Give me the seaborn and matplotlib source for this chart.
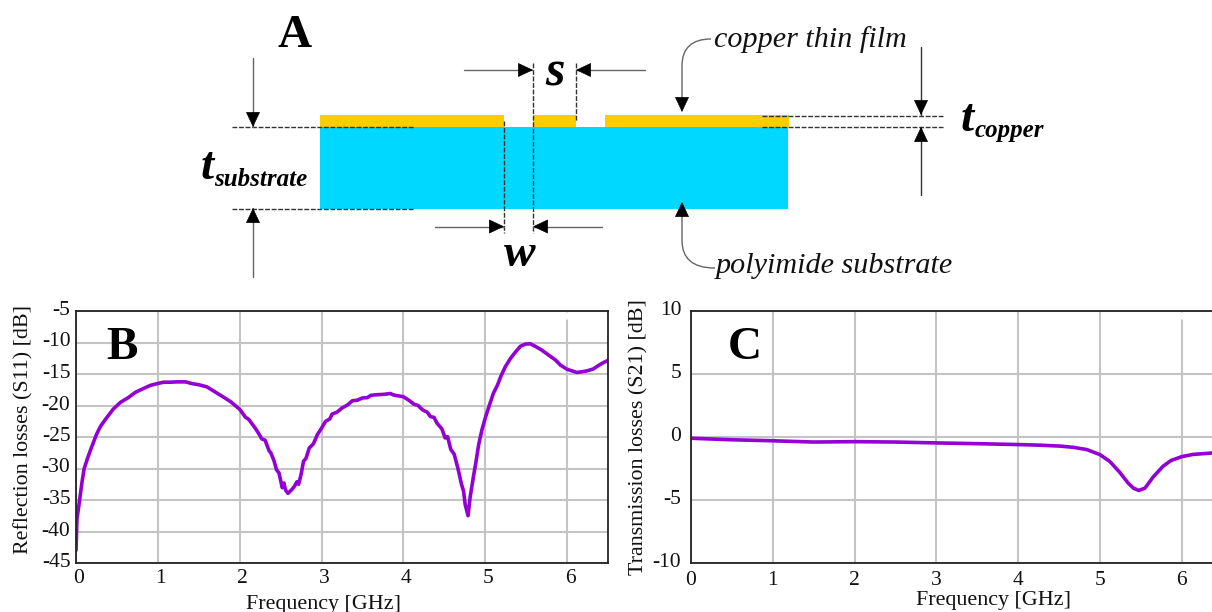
import pandas as pd
import matplotlib.pyplot as plt
import seaborn as sns
from matplotlib.patches import Rectangle, PathPatch
from matplotlib.path import Path
from matplotlib.transforms import ScaledTranslation

# panel B, reflection losses
s11_freq = [0, 0.012, 0.04, 0.073, 0.10, 0.143, 0.188, 0.25, 0.30, 0.36, 0.453, 0.543, 0.633, 0.727, 0.808, 0.91, 1.0,
            1.073, 1.155, 1.237, 1.339, 1.41, 1.50, 1.60, 1.70, 1.80, 1.89, 2.0, 2.07, 2.11, 2.19, 2.23, 2.27, 2.31,
            2.36, 2.38, 2.42, 2.45, 2.48, 2.52, 2.54, 2.56, 2.59, 2.64, 2.67, 2.70, 2.72, 2.75, 2.78, 2.81, 2.85, 2.90,
            2.95, 3.0, 3.05, 3.10, 3.13, 3.19, 3.25, 3.32, 3.375, 3.44, 3.50, 3.56, 3.60, 3.66, 3.74, 3.78, 3.84, 3.885,
            3.95, 4.0, 4.07, 4.13, 4.18, 4.235, 4.29, 4.33, 4.375, 4.41, 4.47, 4.51, 4.54, 4.58, 4.62, 4.665, 4.71,
            4.735, 4.755, 4.79, 4.815, 4.86, 4.885, 4.92, 4.96, 5.0, 5.06, 5.10, 5.15, 5.19, 5.245, 5.31, 5.37, 5.43,
            5.49, 5.55, 5.61, 5.69, 5.775, 5.86, 5.92, 6.0, 6.06, 6.12, 6.18, 6.245, 6.32, 6.39, 6.45, 6.5]
s11_db = [-43, -38, -35.4, -32.2, -30, -28.3, -26.7, -24.6, -23.3, -22.2, -20.6, -19.5, -18.8, -17.9, -17.4, -16.8, -16.5,
          -16.3, -16.3, -16.25, -16.25, -16.5, -16.7, -17.05, -17.85, -18.65, -19.4, -20.6, -21.85, -22.2, -23.6, -24.4, -25.3, -25.5,
          -27.2, -27.5, -28.8, -30.2, -30.7, -33.05, -32.3, -33.4, -33.95, -33.3, -32.8, -32.1, -32.5, -30.95, -28.85, -28.4, -26.75, -26.1,
          -24.6, -23.6, -22.5, -22.15, -21.35, -21.05, -20.4, -19.9, -19.25, -19.15, -18.8, -18.75, -18.4, -18.3, -18.25, -18.2, -18.1, -18.35,
          -18.5, -18.6, -19.2, -19.8, -20, -20.7, -21.05, -21.75, -21.9, -22.8, -23.7, -25.15, -24.95, -27, -27.7, -29.9, -32.5,
          -33.6, -35.7, -37.5, -34.6, -30.95, -29.1, -26.2, -23.85, -22, -19.6, -18.05, -16.75, -15.4, -13.85, -12.5, -11.5, -10.6,
          -10.25, -10.2, -10.6, -11.2, -12, -12.8, -13.6, -14.25, -14.5, -14.75, -14.65, -14.5, -14.2, -13.6, -13.15, -12.85]

# panel C, transmission losses
s21_freq = [0, 0.5, 1, 1.5, 2, 2.5, 3, 3.5, 4, 4.27, 4.51, 4.675, 4.84, 5, 5.12, 5.24, 5.345, 5.41, 5.475, 5.55, 5.65,
            5.77, 5.87, 6, 6.14, 6.37]
s21_db = [-0.1, -0.22, -0.3, -0.4, -0.37, -0.4, -0.47, -0.53, -0.6, -0.65, -0.72, -0.82, -1.0, -1.4, -1.94, -2.79, -3.66,
          -4.06, -4.24, -4.06, -3.18, -2.33, -1.86, -1.56, -1.38, -1.27]

freq_ticks = [0, 1, 2, 3, 4, 5, 6]
s11_ticks = [-5, -10, -15, -20, -25, -30, -35, -40, -45]
s21_ticks = [10, 5, 0, -5, -10]

line_color = '#9400d3'
W, H = 1212, 612

sns.set_theme(style='whitegrid')
plt.rcParams['font.family'] = ['Liberation Serif', 'DejaVu Serif']

fig = plt.figure(figsize=(W / 100, H / 100), dpi=100)


def panel_axes(left, right, top, bottom):
    return fig.add_axes([left / W, 1 - bottom / H, (right - left) / W, (bottom - top) / H])


def style_panel(ax, yticks, ylim, xlim, ylabel, xlabel_pos, ylabel_pos, xpad, ypad, shift_px):
    ax.set_xlim(xlim)
    ax.set_ylim(ylim)
    ax.set_xticks(freq_ticks)
    ax.set_yticks(yticks)
    ax.set_xticklabels([str(t) for t in freq_ticks])
    ax.set_yticklabels([str(t) for t in yticks])
    ax.grid(True, color='#c4c4c4', linewidth=1.5)
    ax.tick_params(axis='y', labelsize=15.5, colors='#111111', length=0, pad=ypad)
    ax.tick_params(axis='x', labelsize=15.5, colors='#111111', length=0, pad=xpad)
    ax.set_xlabel('Frequency [GHz]', fontsize=15.8, color='#111111')
    ax.set_ylabel(ylabel, fontsize=15.8, color='#111111')
    ax.xaxis.set_label_coords(*xlabel_pos)
    ax.yaxis.set_label_coords(*ylabel_pos)
    for spine in ax.spines.values():
        spine.set_color('#222222')
        spine.set_linewidth(1.3)
    # labels sit a little off the grid lines in the original
    up = ScaledTranslation(0, 3 / 100, fig.dpi_scale_trans)
    side = ScaledTranslation(shift_px / 100, 0, fig.dpi_scale_trans)
    for lab in ax.get_yticklabels():
        lab.set_transform(lab.get_transform() + up)
    for lab in ax.get_xticklabels():
        lab.set_transform(lab.get_transform() + side)


ax_b = panel_axes(76, 608, 311, 563)
sns.lineplot(data=pd.DataFrame({'f': s11_freq, 'db': s11_db}), x='f', y='db', ax=ax_b,
             color=line_color, linewidth=2.6, sort=False, errorbar=None)
style_panel(ax_b, s11_ticks, (-45, -5), (0, 6.5), 'Reflection losses (S11) [dB]',
            (0.466, -0.125), (-0.08, 0.53), 4, 4, 3)

ax_c = panel_axes(691, 1212, 311, 563)
sns.lineplot(data=pd.DataFrame({'f': s21_freq, 'db': s21_db}), x='f', y='db', ax=ax_c,
             color=line_color, linewidth=2.6, sort=False, errorbar=None)
style_panel(ax_c, s21_ticks, (-10, 10), (0, 6.37), 'Transmission losses (S21) [dB]',
            (0.58, -0.11), (-0.081, 0.5), 6, 7, 0)
ax_c.spines['right'].set_visible(False)

# overlay in pixel coordinates for the schematic and the panel letters
ov = fig.add_axes([0, 0, 1, 1], facecolor='none')
ov.set_xlim(0, W)
ov.set_ylim(H, 0)
ov.axis('off')

# the grid line at 6 GHz stops short of the top edge in both panels
for x in [566.5, 1182]:
    ov.plot([x, x], [312, 319], color='white', linewidth=2.2, solid_capstyle='butt')

copper = '#ffcc00'
substrate = '#00d8ff'
ov.add_patch(Rectangle((320, 127), 468, 82, color=substrate, lw=0))
for x0, x1 in [(320, 504), (533, 576), (605, 789)]:
    ov.add_patch(Rectangle((x0, 115), x1 - x0, 12, color=copper, lw=0))

dash = dict(color='#333333', linewidth=1, linestyle=(0, (3.5, 1.2)))
for y in [127, 208.5]:
    ov.plot([232, 413], [y, y], **dash)
for y in [115.5, 127]:
    ov.plot([762, 943], [y, y], **dash)
ov.plot([504, 504], [121, 233], **dash)
ov.plot([533, 533], [63, 233], **dash)
ov.plot([576, 576], [63, 121], **dash)


def head(x0, y0, x1, y1):
    ov.annotate('', xy=(x1, y1), xytext=(x0, y0),
                arrowprops=dict(arrowstyle='-|>,head_length=0.55,head_width=0.26', mutation_scale=18,
                                color='black', linewidth=0.5, shrinkA=0, shrinkB=0))


def arrow(x0, y0, x1, y1, color='#666666'):
    ov.plot([x0, x1], [y0, y1], color=color, linewidth=1)
    dx = 13 if x1 > x0 else -13 if x1 < x0 else 0
    dy = 13 if y1 > y0 else -13 if y1 < y0 else 0
    head(x1 - dx, y1 - dy, x1, y1)


arrow(253, 58, 253, 127)
arrow(253, 277, 253, 208)
arrow(464, 70, 533, 70)
arrow(645, 70, 576, 70)
arrow(435, 226.5, 504, 226.5)
arrow(602, 226.5, 533, 226.5)
arrow(921, 47, 921, 115, '#333333')
arrow(921, 195, 921, 127, '#333333')

# curved leaders to the film and substrate
leader_top = Path([(711, 39), (692, 39), (682, 48), (682, 66), (682, 100)],
                  [Path.MOVETO, Path.CURVE4, Path.CURVE4, Path.CURVE4, Path.LINETO])
leader_bot = Path([(715, 268), (692, 268), (682, 258), (682, 240), (682, 215)],
                  [Path.MOVETO, Path.CURVE4, Path.CURVE4, Path.CURVE4, Path.LINETO])
ov.add_patch(PathPatch(leader_top, fill=False, edgecolor='#666666', linewidth=1))
ov.add_patch(PathPatch(leader_bot, fill=False, edgecolor='#666666', linewidth=1))
head(682, 99, 682, 112)
head(682, 215, 682, 202)

letter = dict(fontsize=34, fontweight='bold', color='black', ha='center', va='center')
ov.text(295, 36, 'A', **letter)
ov.text(122, 348, 'B', **letter)
ov.text(745, 348, 'C', **letter)

sym = dict(fontweight='bold', fontstyle='italic', color='black', va='center')
ov.text(555, 73, 's', fontsize=36, ha='center', **sym)
ov.text(520, 255, 'w', fontsize=34, ha='center', **sym)
ov.text(201, 168, 't', fontsize=34, ha='left', **sym)
ov.text(214, 179, 'substrate', fontsize=18, ha='left', **sym)
ov.text(961, 120, 't', fontsize=34, ha='left', **sym)
ov.text(975, 131, 'copper', fontsize=18, ha='left', **sym)

note = dict(fontstyle='italic', fontsize=21.7, color='#111111', ha='left', va='center')
ov.text(714, 40, 'copper thin film', **note)
ov.text(716, 266, 'polyimide substrate', **note)

fig.savefig('out.png', dpi=100)
